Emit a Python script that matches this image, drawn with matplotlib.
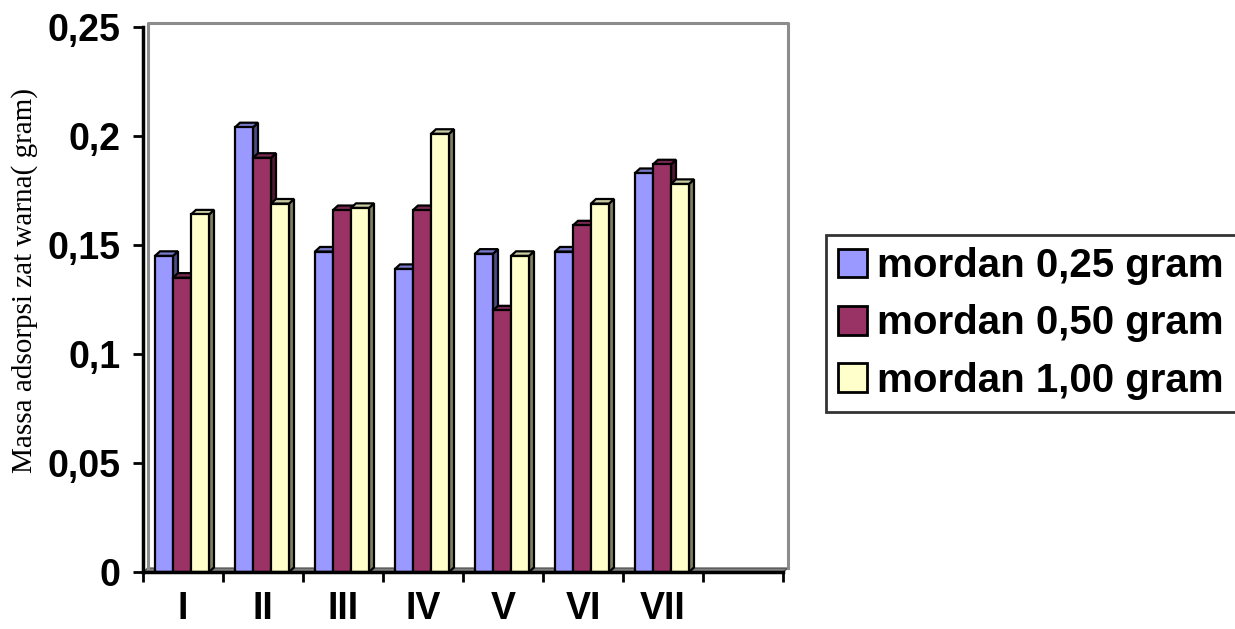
import matplotlib.pyplot as plt
import numpy as np
from matplotlib.patches import Polygon, Patch
from matplotlib.colors import to_rgb

# datos
categorias = ['I', 'II', 'III', 'IV', 'V', 'VI', 'VII', '']
series = ['mordan 0,25 gram', 'mordan 0,50 gram', 'mordan 1,00 gram']
mordan_025 = [0.145, 0.204, 0.147, 0.139, 0.146, 0.147, 0.183]
mordan_050 = [0.135, 0.190, 0.166, 0.166, 0.120, 0.159, 0.187]
mordan_100 = [0.164, 0.169, 0.167, 0.201, 0.145, 0.169, 0.178]
y_ticks = [0, 0.05, 0.1, 0.15, 0.2, 0.25]
y_tick_labels = ['0', '0,05', '0,1', '0,15', '0,2', '0,25']
colores = ['#9999FF', '#993366', '#FFFFCC']


def sombra(color, f):
    r, g, b = to_rgb(color)
    return (r * f, g * f, b * f)


fig = plt.figure(figsize=(12.35, 6.29), dpi=100)
ax = fig.add_axes([143 / 1235, 57 / 629, 640 / 1235, 545 / 629])
ax.set_xlim(-0.5, 7.5)
ax.set_ylim(0, 0.25)

# pared y suelo (efecto 3D)
fdx, fdy = 0.06, 0.0018
gris = '#8c8c8c'
ax.add_patch(Polygon([(-0.5, 0), (-0.5 + fdx, fdy), (7.5 + fdx, fdy), (7.5, 0)],
                     closed=True, facecolor='#808080', edgecolor='#555555',
                     lw=1, clip_on=False, zorder=1))
ax.plot([-0.5 + fdx, -0.5 + fdx, 7.5 + fdx, 7.5 + fdx],
        [fdy, 0.25 + fdy, 0.25 + fdy, fdy], color=gris, lw=2.2,
        clip_on=False, zorder=1)

# barras con profundidad
w = 0.225
dx, dy = 0.0625, 0.0021
valores = [mordan_025, mordan_050, mordan_100]
z = 2
for i in range(len(mordan_025)):
    for j, serie in enumerate(valores):
        v = serie[i]
        x0 = i - 0.0125 + (j - 1) * w - w / 2
        c = colores[j]
        ax.add_patch(Polygon([(x0 + w, 0), (x0 + w + dx, dy), (x0 + w + dx, v + dy), (x0 + w, v)],
                             closed=True, facecolor=sombra(c, 0.5), edgecolor='black',
                             lw=1.6, zorder=z, clip_on=False))
        ax.add_patch(Polygon([(x0, v), (x0 + dx, v + dy), (x0 + w + dx, v + dy), (x0 + w, v)],
                             closed=True, facecolor=sombra(c, 0.8), edgecolor='black',
                             lw=1.6, zorder=z, clip_on=False))
        ax.bar(x0, v, width=w, align='edge', color=c, edgecolor='black',
               linewidth=1.6, zorder=z + 0.5)
        z += 1

# ejes
for s in ['top', 'right']:
    ax.spines[s].set_visible(False)
for s in ['left', 'bottom']:
    ax.spines[s].set_linewidth(2.5)
    ax.spines[s].set_zorder(50)

fuente = {'family': 'Liberation Sans', 'weight': 'bold', 'size': 27}
ax.set_yticks(y_ticks)
ax.set_yticklabels(y_tick_labels, fontdict=fuente)
ax.tick_params(axis='y', length=7, width=2, pad=9)

ax.set_xticks(np.arange(len(categorias)))
ax.set_xticklabels(categorias, fontdict=fuente)
ax.set_xticks(np.arange(-0.5, len(categorias), 1), minor=True)
ax.tick_params(axis='x', which='major', length=0, pad=14)
ax.tick_params(axis='x', which='minor', length=7, width=2)

fig.text(25 / 1235, 1 - 281 / 629, 'Massa adsorpsi zat warna( gram)', rotation=90,
         ha='center', va='center', family='Liberation Serif', fontsize=21)

handles = [Patch(facecolor=c, edgecolor='black', linewidth=2) for c in colores]
leg = fig.legend(handles, series, loc='upper left',
                 bbox_to_anchor=(826 / 1235, 1 - 235 / 629),
                 prop={'family': 'Liberation Sans', 'weight': 'bold', 'size': 29},
                 frameon=True, fancybox=False, edgecolor='black',
                 handlelength=0.72, handleheight=0.72, handletextpad=0.25,
                 labelspacing=0.48, borderpad=0.3, borderaxespad=0)
leg.get_frame().set_linewidth(2)

plt.savefig('out.png', dpi=100)
